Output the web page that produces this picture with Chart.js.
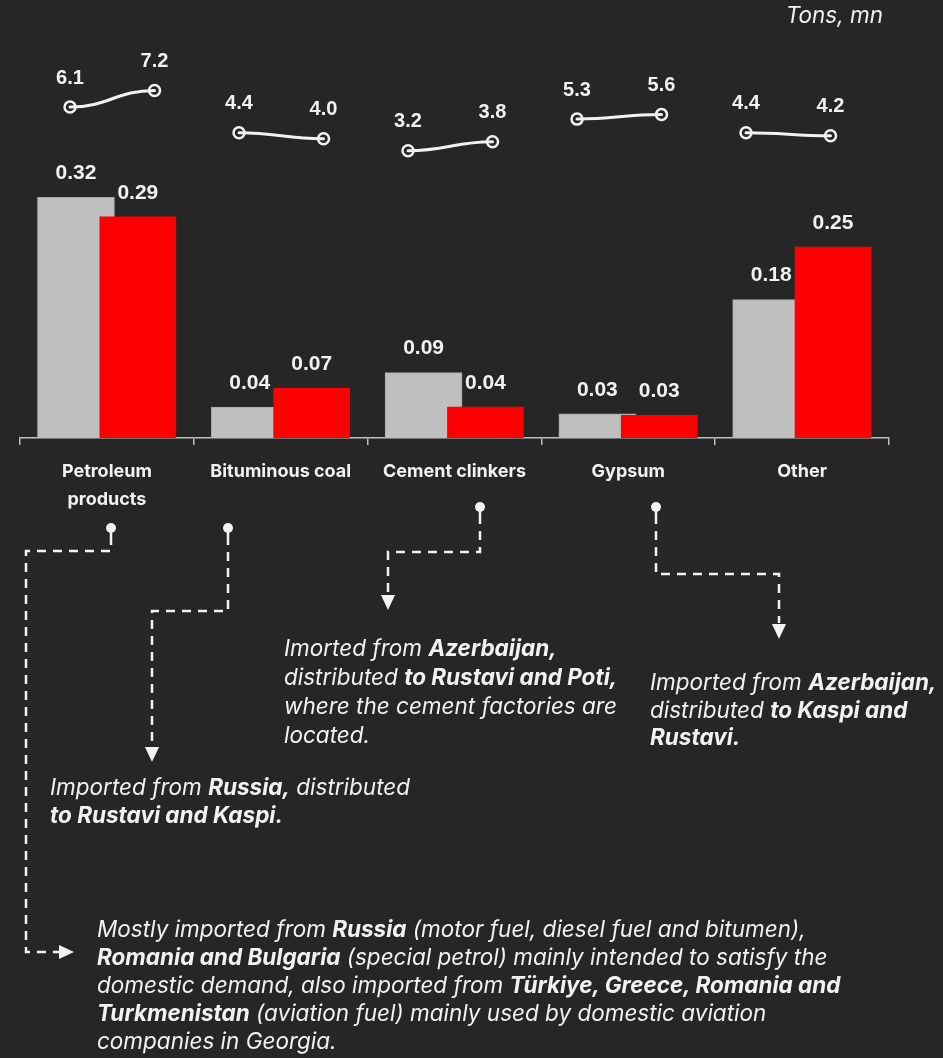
<!DOCTYPE html>
<html>
<head>
<meta charset="utf-8">
<script src="https://cdn.jsdelivr.net/npm/chart.js@4.4.1/dist/chart.umd.min.js"></script>
<style>
  html, body { margin: 0; padding: 0; background: #262626; }
  #wrap { position: relative; width: 943px; height: 1058px; overflow: hidden; }
  canvas { position: absolute; left: 0; top: 0; }
  .note {
    position: absolute; color: #f2f2f2; font-family: Inter, "Noto Sans", sans-serif;
    font-style: italic; font-size: 22.5px; line-height: 28px; white-space: nowrap;
  }
  .note b { font-weight: 700; }
</style>
</head>
<body>
<div id="wrap">
  <canvas id="chart" width="943" height="1058"></canvas>
  <div class="note" style="right:60px;top:2px;line-height:26px">Tons, mn</div>
  <div class="note" style="left:284px;top:633px;line-height:29px">Imorted from <b>Azerbaijan,</b><br>distributed <b>to Rustavi and Poti,</b><br>where the cement factories are<br>located.</div>
  <div class="note" style="left:650px;top:668px;line-height:27.5px">Imported from <b>Azerbaijan,</b><br>distributed <b>to Kaspi and</b><br><b>Rustavi.</b></div>
  <div class="note" style="left:50px;top:773px">Imported from <b>Russia,</b> distributed<br><b>to Rustavi and Kaspi.</b></div>
  <div class="note" style="left:97px;top:915px">Mostly imported from <b>Russia</b> (motor fuel, diesel fuel and bitumen),<br><b>Romania and Bulgaria</b> (special petrol) mainly intended to satisfy the<br>domestic demand, also imported from <b>Türkiye, Greece, Romania and</b><br><b>Turkmenistan</b> (aviation fuel) mainly used by domestic aviation<br>companies in Georgia.</div>
</div>
<script>
// data
const categories = [['Petroleum', 'products'], 'Bituminous coal', 'Cement clinkers', 'Gypsum', 'Other'];
const shareBefore = [0.32, 0.041, 0.087, 0.032, 0.184];
const shareAfter = [0.294, 0.066, 0.041, 0.030, 0.254];
const volumeBefore = [6.1, 4.4, 3.2, 5.3, 4.4];
const volumeAfter = [7.2, 4.0, 3.8, 5.6, 4.2];

const WHITE = '#f2f2f2';
const BAR_SHIFT = 0.178; // half the distance between the two bars, in category units

// two points per category, null between to break the line
const volumePoints = [];
categories.forEach((c, i) => {
  volumePoints.push({ x: i, y: volumeBefore[i] });
  volumePoints.push({ x: i + 0.5, y: volumeAfter[i] });
  volumePoints.push({ x: i + 0.75, y: null });
});

// curved connector between the two volume points of each category
const curves = {
  id: 'curves',
  beforeDatasetsDraw(chart) {
    const meta = chart.getDatasetMeta(2);
    const ctx = chart.ctx;
    ctx.save();
    ctx.strokeStyle = WHITE;
    ctx.lineWidth = 3;
    ctx.lineCap = 'round';
    for (let i = 0; i < categories.length; i++) {
      const a = meta.data[i * 3], b = meta.data[i * 3 + 1];
      const k = (b.x - a.x) * 0.45;
      ctx.beginPath();
      ctx.moveTo(a.x, a.y);
      ctx.bezierCurveTo(a.x + k, a.y, b.x - k, b.y, b.x, b.y);
      ctx.stroke();
    }
    ctx.restore();
  }
};

const valueLabels = {
  id: 'valueLabels',
  afterDatasetsDraw(chart) {
    const ctx = chart.ctx;
    ctx.save();
    ctx.fillStyle = WHITE;
    ctx.textAlign = 'center';
    ctx.textBaseline = 'middle';
    ctx.font = 'bold 21px "Liberation Sans", Arial, sans-serif';
    [shareBefore, shareAfter].forEach((vals, d) => {
      chart.getDatasetMeta(d).data.forEach((bar, i) => {
        ctx.fillText(vals[i].toFixed(2), bar.x, bar.y - 24);
      });
    });
    ctx.font = 'bold 20px "Liberation Sans", Arial, sans-serif';
    const pts = chart.getDatasetMeta(2).data;
    volumePoints.forEach((p, i) => {
      if (p.y === null) return;
      ctx.fillText(p.y.toFixed(1), pts[i].x, pts[i].y - 29);
    });
    ctx.restore();
  }
};

// dashed callouts from the category labels to the notes
const callouts = {
  id: 'callouts',
  afterDraw(chart) {
    const ctx = chart.ctx;
    const paths = [
      { pts: [[111, 528], [111, 551], [26, 551], [26, 952], [60, 952]], dir: 'right', tip: [74, 952] },
      { pts: [[228, 528], [228, 611], [152, 611], [152, 746]], dir: 'down', tip: [152, 762] },
      { pts: [[480, 507], [480, 552], [388, 552], [388, 594]], dir: 'down', tip: [388, 610] },
      { pts: [[656, 507], [656, 574], [779, 574], [779, 623]], dir: 'down', tip: [779, 639] }
    ];
    ctx.save();
    ctx.strokeStyle = WHITE;
    ctx.fillStyle = WHITE;
    paths.forEach(p => {
      const [x0, y0] = p.pts[0];
      ctx.beginPath();
      ctx.arc(x0, y0, 5, 0, Math.PI * 2);
      ctx.fill();
      ctx.lineWidth = 2.5;
      ctx.setLineDash([]);
      ctx.beginPath();
      ctx.moveTo(x0, y0);
      ctx.lineTo(x0, y0 + 8);
      ctx.stroke();
      ctx.setLineDash([9, 7]);
      ctx.beginPath();
      ctx.moveTo(x0, y0 + 8);
      p.pts.slice(1).forEach(q => ctx.lineTo(q[0], q[1]));
      ctx.stroke();
      ctx.setLineDash([]);
      const [tx, ty] = p.tip;
      ctx.beginPath();
      if (p.dir === 'down') {
        ctx.moveTo(tx - 7, ty - 15); ctx.lineTo(tx + 7, ty - 15); ctx.lineTo(tx, ty);
      } else {
        ctx.moveTo(tx - 15, ty - 7); ctx.lineTo(tx - 15, ty + 7); ctx.lineTo(tx, ty);
      }
      ctx.closePath();
      ctx.fill();
    });
    ctx.restore();
  }
};

new Chart(document.getElementById('chart'), {
  type: 'bar',
  data: {
    labels: categories,
    datasets: [
      {
        data: shareBefore.map((v, i) => ({ x: i - BAR_SHIFT, y: v })),
        backgroundColor: '#bfbfbf',
        borderColor: '#a8a8a8',
        borderWidth: 1,
        barThickness: 77,
        grouped: false,
        order: 2,
        xAxisID: 'xb', yAxisID: 'y'
      },
      {
        data: shareAfter.map((v, i) => ({ x: i + BAR_SHIFT, y: v })),
        backgroundColor: '#ff0000',
        borderWidth: 0,
        barThickness: 76,
        grouped: false,
        order: 1,
        xAxisID: 'xb', yAxisID: 'y'
      },
      {
        type: 'line',
        data: volumePoints,
        showLine: false,
        pointRadius: 5.5,
        pointBorderWidth: 2.5,
        pointBorderColor: WHITE,
        pointBackgroundColor: 'rgba(0,0,0,0)',
        order: 0,
        xAxisID: 'xl', yAxisID: 'yl'
      }
    ]
  },
  options: {
    responsive: false,
    animation: false,
    devicePixelRatio: 1,
    layout: { padding: { left: 20, right: 54, top: 62, bottom: 538 } },
    plugins: { legend: { display: false }, tooltip: { enabled: false } },
    scales: {
      x: {
        type: 'category',
        offset: true,
        grid: { offset: true, drawOnChartArea: false, drawTicks: true, tickLength: 7, color: '#bfbfbf', lineWidth: 1.5 },
        border: { display: true, color: '#bfbfbf', width: 1.5 },
        ticks: {
          color: WHITE,
          padding: 13,
          maxRotation: 0,
          autoSkip: false,
          font: { family: 'Inter, "Noto Sans", sans-serif', size: 18, weight: 'bold', lineHeight: 1.556 }
        },
        afterFit(scale) { scale.height = 82; }
      },
      xb: { type: 'linear', display: false, offset: false, min: -0.5, max: 4.5 },
      y: { display: false, min: 0, max: 0.5 },
      xl: { type: 'linear', display: false, offset: false, min: -0.296, max: 4.846 },
      yl: { type: 'linear', display: false, min: -15.86, max: 9.09 }
    }
  },
  plugins: [curves, valueLabels, callouts]
});
</script>
</body>
</html>
